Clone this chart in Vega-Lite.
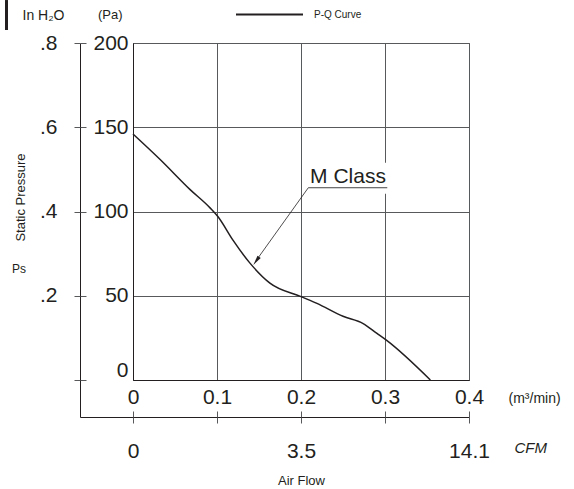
{
  "$schema": "https://vega.github.io/schema/vega-lite/v6.json",
  "width": 336,
  "height": 337,
  "autosize": "none",
  "padding": {"left": 133, "top": 43, "right": 105, "bottom": 109},
  "background": "white",
  "config": {
    "font": "Liberation Sans",
    "view": {"stroke": "#58595b", "strokeWidth": 1},
    "axis": {
      "labelColor": "#231f20", "titleColor": "#231f20",
      "labelFont": "Liberation Sans", "titleFont": "Liberation Sans",
      "titleFontWeight": "normal", "labelFlush": false, "labelOverlap": false, "labelBound": false,
      "domainColor": "#231f20", "tickColor": "#58595b", "gridColor": "#58595b", "gridOpacity": 1
    }
  },
  "layer": [
    {
      "layer": [
        {
          "data": {"values": [
            {"flow": 0, "pressure": 146},
            {"flow": 0.032, "pressure": 131},
            {"flow": 0.068, "pressure": 113},
            {"flow": 0.092, "pressure": 102},
            {"flow": 0.101, "pressure": 97},
            {"flow": 0.119, "pressure": 83},
            {"flow": 0.139, "pressure": 69.5},
            {"flow": 0.163, "pressure": 57.5},
            {"flow": 0.2, "pressure": 49.5},
            {"flow": 0.219, "pressure": 45.5},
            {"flow": 0.25, "pressure": 37.8},
            {"flow": 0.274, "pressure": 33.5},
            {"flow": 0.29, "pressure": 27.8},
            {"flow": 0.302, "pressure": 23.5},
            {"flow": 0.354, "pressure": 0}
          ]},
          "mark": {"type": "line", "interpolate": "monotone", "strokeWidth": 1.5},
          "encoding": {
            "x": {"field": "flow", "type": "quantitative",
              "scale": {"domain": [0, 0.4], "nice": false, "zero": false},
              "axis": {"values": [0, 0.1, 0.2, 0.3, 0.4], "grid": true, "ticks": false,
                "labelExpr": "datum.value == 0 ? '0' : format(datum.value, '.1f')",
                "labelFontSize": 21, "labelPadding": 6,
                "title": "(m³/min)", "titleFontSize": 14, "titleX": 375, "titleY": 22,
                "titleAlign": "left", "titleBaseline": "alphabetic"}},
            "y": {"field": "pressure", "type": "quantitative",
              "scale": {"domain": [0, 200], "nice": false},
              "axis": {"values": [0, 50, 100, 150, 200], "grid": true, "ticks": false,
                "labelFontSize": 21, "labelPadding": 5,
                "labelBaseline": {"condition": {"test": "datum.value == 0", "value": "bottom"}, "value": "middle"},
                "title": "(Pa)", "titleFontSize": 13, "titleAngle": 0, "titleX": -35.5, "titleY": -24.7,
                "titleAlign": "left", "titleBaseline": "alphabetic"}},
            "color": {"datum": "P-Q Curve", "type": "nominal",
              "scale": {"range": ["#231f20"]},
              "legend": {"orient": "none", "legendX": 102, "legendY": -63, "title": null,
                "symbolType": "stroke", "symbolSize": 4489, "symbolStrokeWidth": 2,
                "labelFontSize": 10, "labelOffset": 10, "padding": 0, "labelColor": "#231f20"}}
          }
        },
        {
          "data": {"values": [{}]},
          "mark": {"type": "rect", "fill": "white"},
          "encoding": {
            "x": {"datum": 0.214, "type": "quantitative"},
            "x2": {"datum": 0.31},
            "y": {"datum": 110.5, "type": "quantitative"},
            "y2": {"datum": 129}
          }
        },
        {
          "data": {"values": [{}]},
          "mark": {"type": "rule", "stroke": "#444444", "strokeWidth": 1},
          "encoding": {
            "x": {"datum": 0.2087, "type": "quantitative"},
            "x2": {"datum": 0.3027},
            "y": {"datum": 114.1, "type": "quantitative"}
          }
        },
        {
          "data": {"values": [{}]},
          "mark": {"type": "rule", "stroke": "#231f20", "strokeWidth": 0.8},
          "encoding": {
            "x": {"datum": 0.2087, "type": "quantitative"},
            "x2": {"datum": 0.1475},
            "y": {"datum": 114.1, "type": "quantitative"},
            "y2": {"datum": 71.5}
          }
        },
        {
          "data": {"values": [{}]},
          "mark": {"type": "point", "shape": "M0,-1L0.4,1L-0.4,1Z", "filled": true, "size": 100, "angle": 215.5, "color": "#231f20", "opacity": 1},
          "encoding": {
            "x": {"datum": 0.1467, "type": "quantitative"},
            "y": {"datum": 70.7, "type": "quantitative"}
          }
        },
        {
          "data": {"values": [{}]},
          "mark": {"type": "text", "text": "M Class", "fontSize": 21, "align": "center", "baseline": "alphabetic", "color": "#231f20"},
          "encoding": {
            "x": {"datum": 0.256, "type": "quantitative"},
            "y": {"datum": 116.7, "type": "quantitative"}
          }
        },
        {
          "data": {"values": [{}]},
          "mark": {"type": "text", "text": "Ps", "fontSize": 12, "align": "center", "baseline": "middle", "color": "#231f20"},
          "encoding": {
            "x": {"datum": -0.1357, "type": "quantitative"},
            "y": {"datum": 65.9, "type": "quantitative"}
          }
        },
        {
          "data": {"values": [{}]},
          "mark": {"type": "rule", "stroke": "#231f20", "strokeWidth": 3},
          "encoding": {
            "x": {"datum": -0.1506, "type": "quantitative"},
            "y": {"datum": 207.7, "type": "quantitative"},
            "y2": {"datum": 225.5}
          }
        }
      ]
    },
    {
      "data": {"values": [{}]},
      "mark": {"type": "point", "opacity": 0},
      "encoding": {
        "x": {"datum": 0, "type": "quantitative",
          "scale": {"domain": [-0.0631, 0.4], "range": [-53, 336], "nice": false, "zero": false},
          "axis": {"orient": "bottom", "offset": 37, "values": [0, 0.1, 0.2, 0.3, 0.4],
            "labelExpr": "abs(datum.value) < 0.001 ? '0' : abs(datum.value - 0.2) < 0.001 ? '3.5' : abs(datum.value - 0.4) < 0.001 ? '14.1' : ''",
            "tickSize": 6, "labelFontSize": 21, "labelPadding": 17, "grid": false,
            "title": "Air Flow", "titleFontSize": 13, "titleX": 168, "titleY": 67,
            "titleAlign": "center", "titleBaseline": "alphabetic"}},
        "y": {"datum": 0, "type": "quantitative",
          "scale": {"domain": [-0.0878, 0.8], "range": [374, 0], "nice": false, "zero": false},
          "axis": {"orient": "left", "offset": 53, "values": [0, 0.2, 0.4, 0.6, 0.8],
            "labelExpr": "datum.value == 0 ? '' : replace(format(datum.value, '.1f'), '0.', '.')",
            "tickSize": 6, "labelFontSize": 21, "labelPadding": 17, "grid": false,
            "title": "Static Pressure", "titleFontSize": 13, "titleX": -60, "titleY": 154,
            "titleAngle": -90, "titleAlign": "center", "titleBaseline": "middle"}}
      }
    },
    {
      "data": {"values": [{}]},
      "mark": {"type": "point", "opacity": 0},
      "encoding": {
        "x": {"datum": 0, "type": "quantitative",
          "scale": {"domain": [-0.0631, 0.4], "range": [-53, 336], "nice": false, "zero": false},
          "axis": {"orient": "bottom", "offset": 37, "values": [0, 0.1, 0.2, 0.3, 0.4],
            "tickSize": -6, "labels": false, "domain": false, "grid": false,
            "title": "CFM", "titleFontSize": 15, "titleFontStyle": "italic", "titleX": 381, "titleY": 35,
            "titleAlign": "left", "titleBaseline": "alphabetic"}},
        "y": {"datum": 0, "type": "quantitative",
          "scale": {"domain": [-0.0878, 0.8], "range": [374, 0], "nice": false, "zero": false},
          "axis": {"orient": "left", "offset": 53, "values": [0, 0.2, 0.4, 0.6, 0.8],
            "tickSize": -6, "labels": false, "domain": false, "grid": false,
            "title": "In H₂O", "titleFontSize": 14, "titleAngle": 0, "titleX": -58, "titleY": -24,
            "titleAlign": "left", "titleBaseline": "alphabetic"}}
      }
    }
  ],
  "resolve": {"scale": {"x": "independent", "y": "independent"}}
}
